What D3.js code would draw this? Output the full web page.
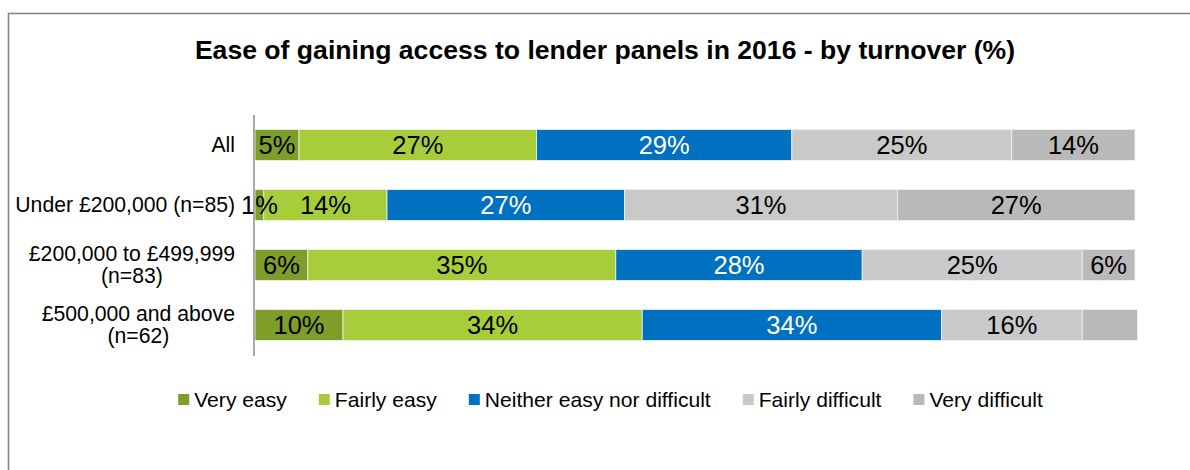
<!DOCTYPE html>
<html>
<head>
<meta charset="utf-8">
<script src="https://cdn.jsdelivr.net/npm/d3@7/dist/d3.min.js"></script>
<style>
  html, body { margin: 0; padding: 0; background: #fff; }
  svg { display: block; font-family: "Liberation Sans", Arial, sans-serif; }
</style>
</head>
<body>
<svg id="chart" width="1190" height="470"></svg>
<script>
// Turnover bands (rows) and answer options (stacked segments)
const categories = [
  "All",
  "Under £200,000 (n=85)",
  "£200,000 to £499,999\n(n=83)",
  "£500,000 and above\n(n=62)"
];
const seriesNames = ["Very easy", "Fairly easy", "Neither easy nor difficult", "Fairly difficult", "Very difficult"];
const seriesColors = ["#7f9d29", "#a7ce3a", "#0070c0", "#c9c9c9", "#b9b9b9"];

// Percentages per row, in series order
const veryEasy        = [5, 1, 6, 10];
const fairlyEasy      = [27, 14, 35, 34];
const neither         = [29, 27, 28, 34];
const fairlyDifficult = [25, 31, 25, 16];
const veryDifficult   = [14, 27, 6, 6.3];

// Which segments carry a value label (the last segment of the bottom row has none)
const showLabel = [
  [true, true, true, true, true],
  [true, true, true, true, true],
  [true, true, true, true, true],
  [true, true, true, true, false]
];

const title = "Ease of gaining access to lender panels in 2016 - by turnover (%)";
const xDomain = [0, 100];

const svg = d3.select("#chart");

// Outer frame
svg.append("rect")
  .attr("x", 8.5).attr("y", 13.5)
  .attr("width", 1300).attr("height", 600)
  .attr("fill", "none")
  .attr("stroke", "#878787")
  .attr("stroke-width", 1.6);

// Title
svg.append("text")
  .attr("x", 605).attr("y", 59)
  .attr("text-anchor", "middle")
  .attr("font-weight", "bold")
  .attr("font-size", 26.6)
  .attr("fill", "#000")
  .text(title);

const x = d3.scaleLinear().domain(xDomain).range([255, 1135]);
const y = d3.scaleBand().domain(d3.range(categories.length)).range([115, 355]).paddingInner(0.485).paddingOuter(0.2425);

const rows = categories.map((c, i) => {
  const vals = [veryEasy[i], fairlyEasy[i], neither[i], fairlyDifficult[i], veryDifficult[i]];
  let acc = 0;
  return vals.map((v, j) => {
    const seg = { row: i, series: j, value: v, x0: acc, x1: acc + v, label: showLabel[i][j] };
    acc += v;
    return seg;
  });
});

const segs = rows.flat();

// Bars
svg.append("g").selectAll("rect")
  .data(segs)
  .join("rect")
  .attr("x", d => x(d.x0))
  .attr("y", d => y(d.row))
  .attr("width", d => x(d.x1) - x(d.x0))
  .attr("height", y.bandwidth())
  .attr("fill", d => seriesColors[d.series])
  .attr("stroke", "#f2f2f2")
  .attr("stroke-width", 0.8);

// Value labels
const labelSize = 25.5;
svg.append("g").selectAll("text")
  .data(segs.filter(d => d.label))
  .join("text")
  .attr("x", d => (x(d.x0) + x(d.x1)) / 2)
  .attr("y", d => y(d.row) + y.bandwidth() / 2 + labelSize * 0.36)
  .attr("text-anchor", "middle")
  .attr("font-size", labelSize)
  .attr("fill", d => d.series === 2 ? "#ffffff" : "#000000")
  .text(d => Math.round(d.value) + "%");

// Category axis line
svg.append("line")
  .attr("x1", 254).attr("x2", 254)
  .attr("y1", 115).attr("y2", 356)
  .attr("stroke", "#8c8c8c")
  .attr("stroke-width", 1.5);

// Category labels: wrapped lines centred on each other, block right-aligned
const catSize = 21.2;
const catRight = 235;
categories.forEach((c, i) => {
  const lines = c.split("\n");
  const g = svg.append("g");
  const texts = lines.map((ln, k) => g.append("text")
    .attr("font-size", catSize)
    .attr("fill", "#000")
    .attr("text-anchor", "middle")
    .text(ln));
  const widths = texts.map(t => t.node().getComputedTextLength());
  const maxW = d3.max(widths);
  const cx = catRight - maxW / 2;
  const cy = y(i) + y.bandwidth() / 2;
  const lh = 22;
  const first = cy + catSize * 0.35 - (lines.length - 1) * lh / 2;
  texts.forEach((t, k) => t.attr("x", cx).attr("y", first + k * lh));
});

// Legend
const legSize = 21.1;
const sw = 11;
const legend = svg.append("g");
const items = seriesNames.map((name, j) => {
  const g = legend.append("g");
  g.append("rect").attr("width", sw).attr("height", sw).attr("y", -sw / 2 - 0.5).attr("fill", seriesColors[j]);
  const t = g.append("text").attr("x", sw + 5).attr("y", legSize * 0.35).attr("font-size", legSize).attr("fill", "#000").text(name);
  return { g, w: sw + 5 + t.node().getComputedTextLength() };
});
const gap = 32;
const total = d3.sum(items, d => d.w) + gap * (items.length - 1);
let lx = 610.5 - total / 2;
items.forEach(it => {
  it.g.attr("transform", `translate(${lx},400)`);
  lx += it.w + gap;
});
</script>
</body>
</html>
